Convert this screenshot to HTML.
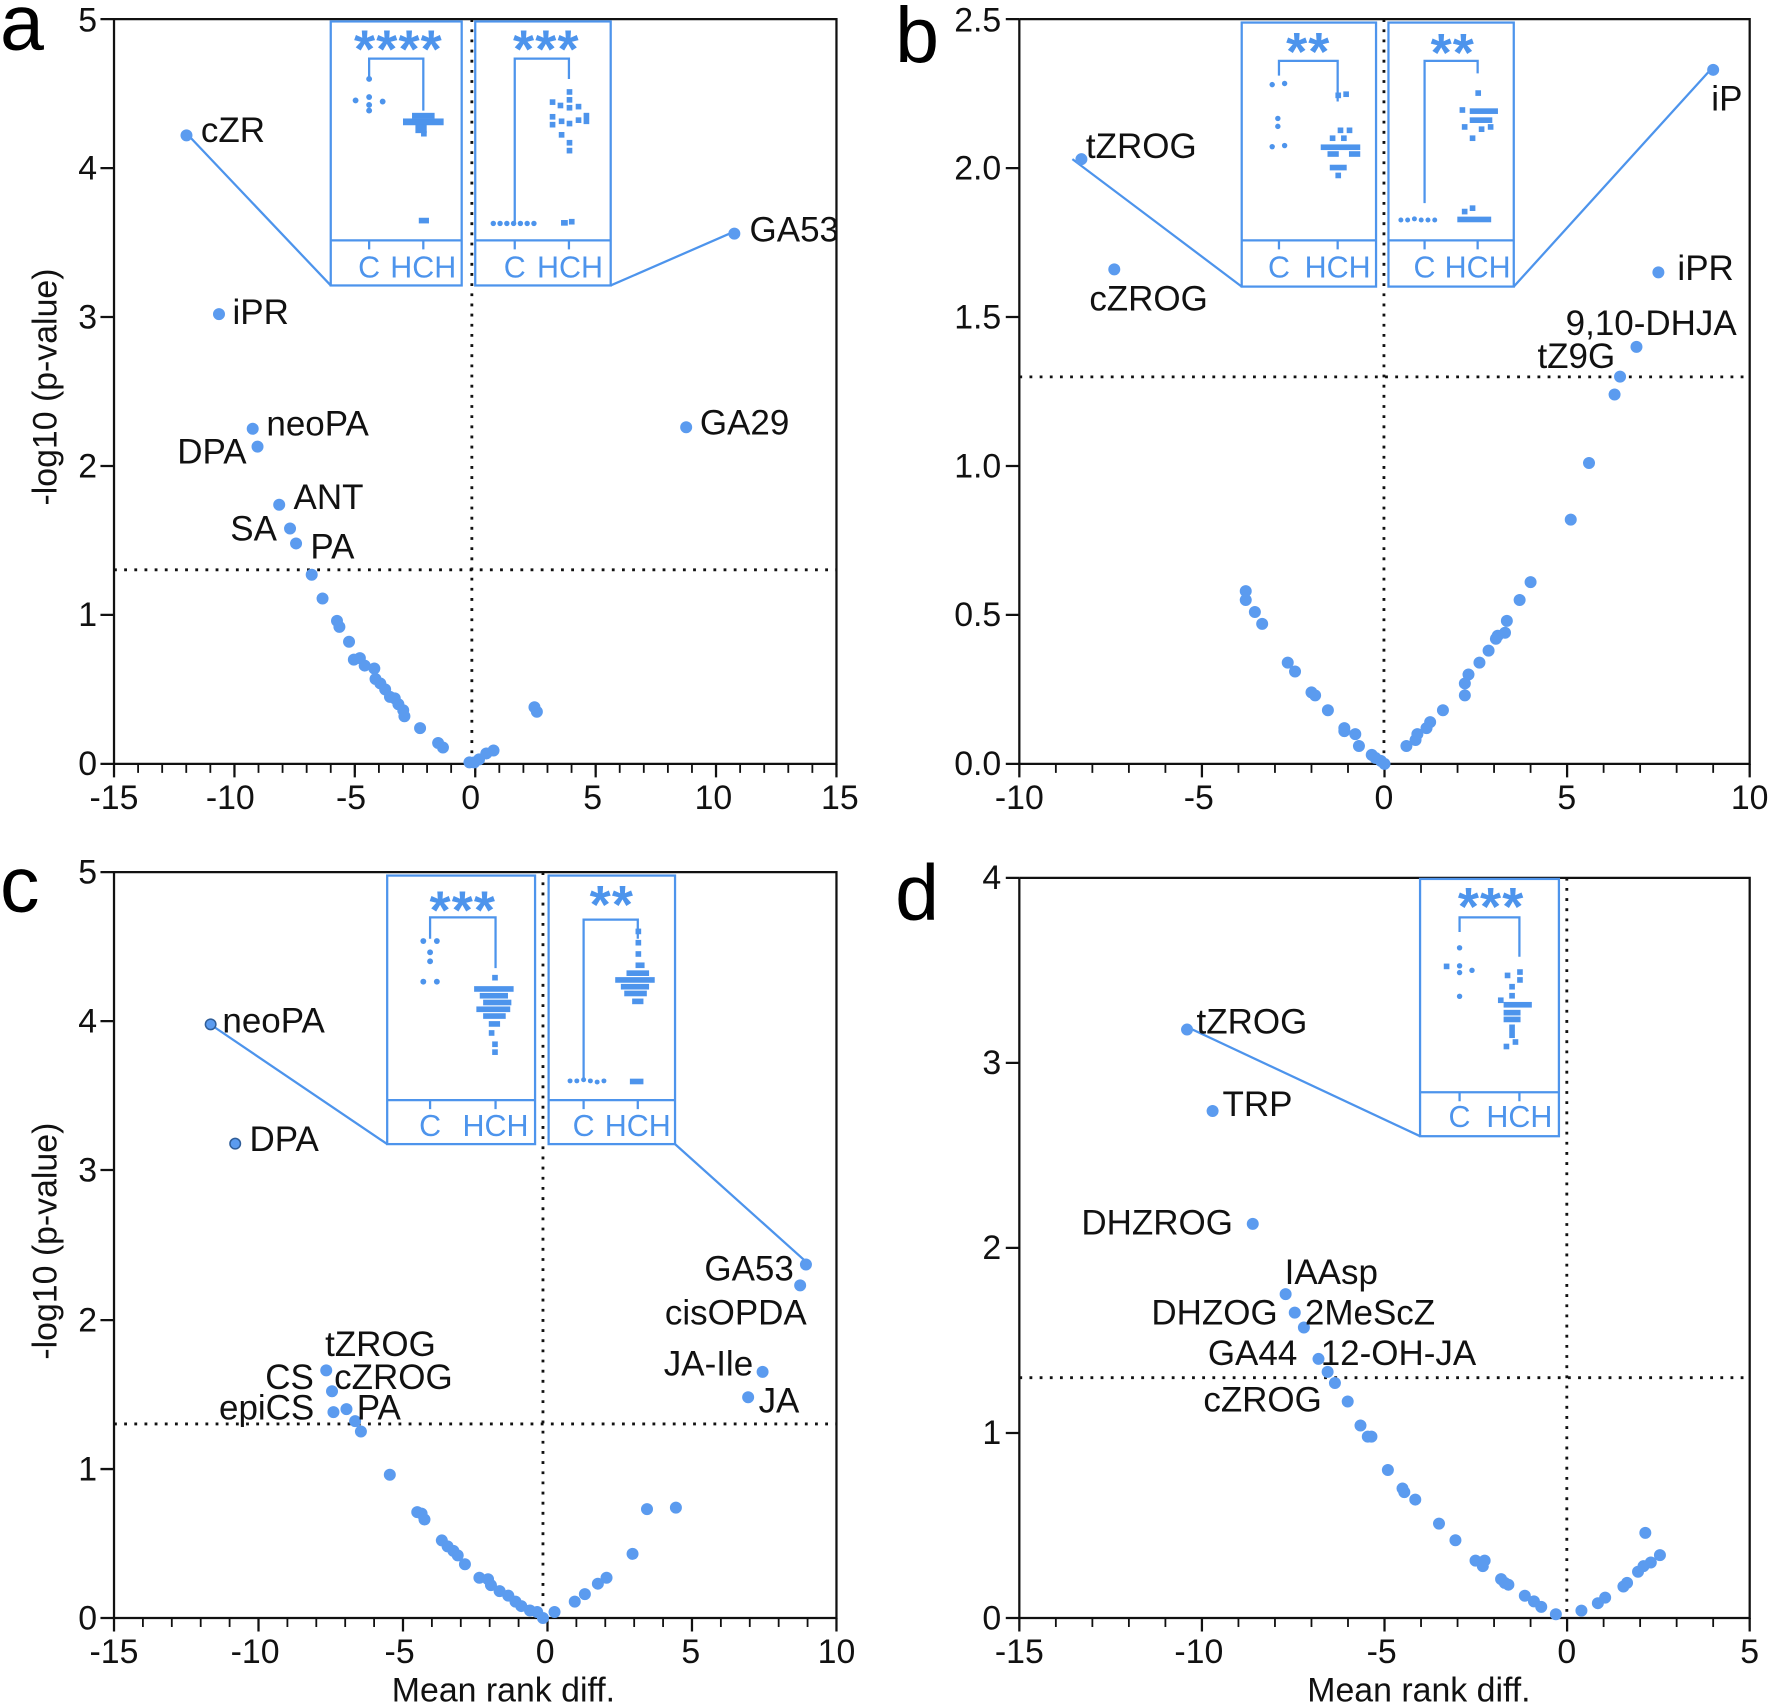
<!DOCTYPE html>
<html><head><meta charset="utf-8"><style>
html,body{margin:0;padding:0;background:#fff;}
svg{display:block;}
text{font-family:"Liberation Sans",Arial,sans-serif;}
</style></head><body>
<svg width="1770" height="1706" xmlns="http://www.w3.org/2000/svg">
<rect width="1770" height="1706" fill="#fff"/>
<g transform="scale(1.12883,1.12831)">

<!-- ================= PANEL A ================= -->
<g>
<text x="0" y="44" font-size="70">a</text>
<path d="M101 17V677H741V17H101" fill="none" stroke="#111" stroke-width="2"/>
<line x1="101" y1="681" x2="741" y2="681" stroke="#111" stroke-width="8" stroke-dasharray="1.6 19.733" stroke-dashoffset="0.8"/>
<path d="M101 677v12M207.7 677v12M314.3 677v12M421 677v12M527.7 677v12M634.3 677v12M741 677v12M89 677h12M89 545h12M89 413h12M89 281h12M89 149h12M89 17h12" stroke="#111" stroke-width="2"/>
<g font-size="30" text-anchor="middle" fill="#111">
<text x="101" y="717">-15</text><text x="204" y="717">-10</text><text x="311" y="717">-5</text><text x="417" y="717">0</text><text x="525" y="717">5</text><text x="632" y="717">10</text><text x="744" y="717">15</text>
</g>
<g font-size="30" text-anchor="end" fill="#111">
<text x="86" y="687">0</text><text x="86" y="555">1</text><text x="86" y="423">2</text><text x="86" y="291">3</text><text x="86" y="159">4</text><text x="86" y="28">5</text>
</g>
<text transform="translate(50,343) rotate(-90)" font-size="30" text-anchor="middle" fill="#111">-log10 (p-value)</text>
<line x1="101" y1="505" x2="741" y2="505" stroke="#111" stroke-width="2.5" stroke-dasharray="2.5 6.5"/>
<line x1="418" y1="17" x2="418" y2="677" stroke="#111" stroke-width="2.5" stroke-dasharray="2.5 6.5"/>
<g stroke="#4d94ec" fill="none" stroke-width="2">
<rect x="293" y="19" width="116" height="234" fill="#fff"/><line x1="293" y1="213" x2="409" y2="213"/>
<rect x="421" y="19" width="120" height="234" fill="#fff"/><line x1="421" y1="213" x2="541" y2="213"/>
<path d="M165 118L293 253M541 253L651 205"/>
<path d="M327 70V52H375V98M456 197V52H504V70"/>
<path d="M327 213v8M375 213v8M456 213v8M504 213v8"/>
</g>
<g font-size="27" fill="#4d94ec" text-anchor="middle">
<text x="327" y="246">C</text><text x="375" y="246">HCH</text><text x="456" y="246">C</text><text x="505" y="246">HCH</text>
<text x="353" y="60" font-size="48" font-weight="bold" letter-spacing="1">****</text><text x="484" y="60" font-size="48" font-weight="bold" letter-spacing="1">***</text>
</g>
<g fill="#4d94ec">
<circle cx="327" cy="70" r="2.6"/><circle cx="327" cy="86" r="2.6"/><circle cx="315" cy="89" r="2.6"/><circle cx="339" cy="90" r="2.6"/><circle cx="327" cy="93" r="2.6"/><circle cx="327" cy="98" r="2.6"/>
<rect x="357" y="105" width="36" height="6"/><rect x="365" y="100" width="20" height="5"/><rect x="368" y="110" width="10" height="8"/><rect x="373" y="116" width="5" height="5"/><rect x="371" y="193" width="9" height="5"/>
<circle cx="437" cy="198" r="2.4"/><circle cx="443" cy="198" r="2.4"/><circle cx="449" cy="198" r="2.4"/><circle cx="455" cy="198" r="2.4"/><circle cx="461" cy="198" r="2.4"/><circle cx="467" cy="198" r="2.4"/><circle cx="473" cy="198" r="2.4"/>
<rect x="502" y="79" width="5" height="5"/><rect x="502" y="86" width="5" height="5"/><rect x="487" y="88" width="5" height="5"/><rect x="494" y="91" width="5" height="5"/><rect x="502" y="93" width="5" height="5"/><rect x="510" y="92" width="5" height="5"/><rect x="487" y="101" width="5" height="5"/><rect x="495" y="105" width="5" height="5"/><rect x="487" y="108" width="5" height="5"/><rect x="502" y="107" width="5" height="5"/><rect x="510" y="104" width="5" height="5"/><rect x="517" y="100" width="5" height="10"/><rect x="495" y="117" width="5" height="5"/><rect x="502" y="124" width="5" height="5"/><rect x="502" y="131" width="5" height="5"/><rect x="497" y="195" width="6" height="5"/><rect x="504" y="194" width="5" height="5"/>
</g>
<g transform="translate(418,677) scale(21.333,-132)">
<path vector-effect="non-scaling-stroke" stroke="#5b9bef" stroke-width="12" stroke-linecap="round" fill="none" d="M-11.85 4.22h0M-10.5 3.02h0M-9.1 2.25h0M-8.9 2.13h0M-8.0 1.74h0M-7.55 1.58h0M-7.3 1.48h0M-6.65 1.27h0M-6.2 1.11h0M-5.6 0.96h0M-5.5 0.92h0M-5.1 0.82h0M-4.9 0.70h0M-4.65 0.71h0M-4.45 0.66h0M-4.05 0.64h0M-4.0 0.57h0M-3.8 0.54h0M-3.6 0.50h0M-3.4 0.45h0M-3.2 0.44h0M-3.05 0.40h0M-2.85 0.36h0M-2.8 0.32h0M-2.15 0.24h0M-1.4 0.14h0M-1.2 0.11h0M-0.1 0.01h0M0.1 0.01h0M0.3 0.03h0M0.6 0.07h0M0.9 0.09h0M2.6 0.38h0M2.7 0.35h0M8.9 2.26h0M10.9 3.56h0"/>
</g>
<g font-size="31" fill="#111">
<text x="178" y="126">cZR</text><text x="206" y="287">iPR</text><text x="236" y="386">neoPA</text><text x="157" y="411">DPA</text><text x="260" y="451">ANT</text><text x="204" y="479">SA</text><text x="275" y="495">PA</text><text x="664" y="214">GA53</text><text x="620" y="385">GA29</text>
</g>
</g>

<!-- ================= PANEL B ================= -->
<g>
<text x="793" y="55" font-size="70">b</text>
<path d="M903 17V677H1550V17H903" fill="none" stroke="#111" stroke-width="2"/>
<line x1="903" y1="681" x2="1550" y2="681" stroke="#111" stroke-width="8" stroke-dasharray="1.6 30.75" stroke-dashoffset="0.8"/>
<path d="M903 677v12M1064.75 677v12M1226.5 677v12M1388.25 677v12M1550 677v12M891 677h12M891 545h12M891 413h12M891 281h12M891 149h12M891 17h12" stroke="#111" stroke-width="2"/>
<g font-size="30" text-anchor="middle" fill="#111">
<text x="903" y="717">-10</text><text x="1062" y="717">-5</text><text x="1226" y="717">0</text><text x="1388" y="717">5</text><text x="1550" y="717">10</text>
</g>
<g font-size="30" text-anchor="end" fill="#111">
<text x="887" y="687">0.0</text><text x="887" y="555">0.5</text><text x="887" y="423">1.0</text><text x="887" y="291">1.5</text><text x="887" y="159">2.0</text><text x="887" y="28">2.5</text>
</g>
<line x1="903" y1="334" x2="1550" y2="334" stroke="#111" stroke-width="2.5" stroke-dasharray="2.5 6.5"/>
<line x1="1226" y1="17" x2="1226" y2="677" stroke="#111" stroke-width="2.5" stroke-dasharray="2.5 6.5"/>
<g stroke="#4d94ec" fill="none" stroke-width="2">
<rect x="1100" y="20" width="119" height="234" fill="#fff"/><line x1="1100" y1="213" x2="1219" y2="213"/>
<rect x="1230" y="20" width="111" height="234" fill="#fff"/><line x1="1230" y1="213" x2="1341" y2="213"/>
<path d="M950 141L1100 254M1341 254L1516 61"/>
<path d="M1133 67V54H1185V90M1262 180V54H1309V65"/>
<path d="M1133 213v8M1185 213v8M1262 213v8M1309 213v8"/>
</g>
<g font-size="27" fill="#4d94ec" text-anchor="middle">
<text x="1133" y="246">C</text><text x="1185" y="246">HCH</text><text x="1262" y="246">C</text><text x="1309" y="246">HCH</text>
<text x="1159" y="62" font-size="48" font-weight="bold" letter-spacing="1">**</text><text x="1287" y="63" font-size="48" font-weight="bold" letter-spacing="1">**</text>
</g>
<g fill="#4d94ec">
<circle cx="1127" cy="75" r="2.4"/><circle cx="1138" cy="74" r="2.4"/><circle cx="1132" cy="105" r="2.4"/><circle cx="1132" cy="112" r="2.4"/><circle cx="1127" cy="130" r="2.4"/><circle cx="1138" cy="129" r="2.4"/>
<rect x="1183" y="82" width="5" height="5"/><rect x="1190" y="81" width="5" height="5"/><rect x="1185" y="113" width="5" height="5"/><rect x="1193" y="113" width="5" height="5"/><rect x="1178" y="120" width="5" height="5"/><rect x="1188" y="120" width="5" height="5"/><rect x="1170" y="128" width="35" height="5"/><rect x="1176" y="134" width="10" height="5"/><rect x="1195" y="134" width="10" height="5"/><rect x="1178" y="146" width="15" height="5"/><rect x="1183" y="153" width="5" height="5"/>
<circle cx="1241" cy="195" r="2.2"/><circle cx="1247" cy="195" r="2.2"/><circle cx="1253" cy="194" r="2.2"/><circle cx="1259" cy="195" r="2.2"/><circle cx="1265" cy="195" r="2.2"/><circle cx="1271" cy="195" r="2.2"/>
<rect x="1291" y="192" width="30" height="5"/><rect x="1302" y="182" width="5" height="5"/><rect x="1295" y="185" width="5" height="5"/>
<rect x="1307" y="80" width="5" height="5"/><rect x="1293" y="95" width="5" height="5"/><rect x="1302" y="96" width="25" height="5"/><rect x="1302" y="104" width="20" height="5"/><rect x="1295" y="110" width="5" height="5"/><rect x="1310" y="112" width="5" height="5"/><rect x="1318" y="110" width="5" height="5"/><rect x="1302" y="120" width="5" height="5"/>
</g>
<g transform="translate(1226.5,677) scale(32.35,-264)">
<path vector-effect="non-scaling-stroke" stroke="#5b9bef" stroke-width="12" stroke-linecap="round" fill="none" d="M-8.3 2.03h0M-7.4 1.66h0M9 2.33h0M7.5 1.65h0M6.9 1.40h0M6.45 1.30h0M6.3 1.24h0M5.6 1.01h0M5.1 0.82h0M4.0 0.61h0M3.7 0.55h0M3.35 0.48h0M3.3 0.44h0M3.1 0.43h0M3.05 0.42h0M2.85 0.38h0M2.6 0.34h0M2.3 0.30h0M2.2 0.27h0M2.2 0.23h0M1.6 0.18h0M1.25 0.14h0M1.15 0.12h0M0.9 0.10h0M0.85 0.08h0M0.6 0.06h0M-3.8 0.58h0M-3.8 0.55h0M-3.55 0.51h0M-3.35 0.47h0M-2.65 0.34h0M-2.45 0.31h0M-2.0 0.24h0M-1.9 0.23h0M-1.55 0.18h0M-1.1 0.12h0M-1.1 0.11h0M-0.8 0.10h0M-0.7 0.06h0M-0.35 0.03h0M-0.25 0.02h0M-0.1 0.01h0M0 0h0"/>
</g>
<g font-size="31" fill="#111">
<text x="962" y="140">tZROG</text><text x="965" y="275">cZROG</text><text x="1516" y="98">iP</text><text x="1486" y="248">iPR</text><text x="1387" y="297">9,10-DHJA</text><text x="1362" y="326">tZ9G</text>
</g>
</g>

<!-- ================= PANEL C ================= -->
<g>
<text x="0" y="808" font-size="70">c</text>
<path d="M101 773V1434H741V773H101" fill="none" stroke="#111" stroke-width="2"/>
<line x1="101" y1="1438" x2="741" y2="1438" stroke="#111" stroke-width="8" stroke-dasharray="1.6 24" stroke-dashoffset="0.8"/>
<path d="M101 1434v12M229 1434v12M357 1434v12M485 1434v12M613 1434v12M741 1434v12M89 1434h12M89 1302h12M89 1170h12M89 1037h12M89 905h12M89 773h12" stroke="#111" stroke-width="2"/>
<g font-size="30" text-anchor="middle" fill="#111">
<text x="101" y="1474">-15</text><text x="226" y="1474">-10</text><text x="354" y="1474">-5</text><text x="483" y="1474">0</text><text x="612" y="1474">5</text><text x="741" y="1474">10</text>
</g>
<g font-size="30" text-anchor="end" fill="#111">
<text x="86" y="1444">0</text><text x="86" y="1312">1</text><text x="86" y="1180">2</text><text x="86" y="1047">3</text><text x="86" y="915">4</text><text x="86" y="783">5</text>
</g>
<text transform="translate(50,1100) rotate(-90)" font-size="30" text-anchor="middle" fill="#111">-log10 (p-value)</text>
<text x="446" y="1508" font-size="30" text-anchor="middle" fill="#111">Mean rank diff.</text>
<line x1="101" y1="1262" x2="741" y2="1262" stroke="#111" stroke-width="2.5" stroke-dasharray="2.5 6.5"/>
<line x1="481" y1="773" x2="481" y2="1434" stroke="#111" stroke-width="2.5" stroke-dasharray="2.5 6.5"/>
<g stroke="#4d94ec" fill="none" stroke-width="2">
<rect x="343" y="776" width="131" height="238" fill="#fff"/><line x1="343" y1="975" x2="474" y2="975"/>
<rect x="486" y="776" width="112" height="238" fill="#fff"/><line x1="486" y1="975" x2="598" y2="975"/>
<path d="M185 907L343 1014M598 1014L716 1120"/>
<path d="M381 832V813H439V858M517 958V815H565V832"/>
<path d="M381 975v8M439 975v8M517 975v8M565 975v8"/>
</g>
<g font-size="27" fill="#4d94ec" text-anchor="middle">
<text x="381" y="1007">C</text><text x="439" y="1007">HCH</text><text x="517" y="1007">C</text><text x="565" y="1007">HCH</text>
<text x="410" y="823" font-size="48" font-weight="bold" letter-spacing="1">***</text><text x="542" y="818" font-size="48" font-weight="bold" letter-spacing="1">**</text>
</g>
<g fill="#4d94ec">
<circle cx="375" cy="834" r="2.6"/><circle cx="387" cy="834" r="2.6"/><circle cx="381" cy="844" r="2.6"/><circle cx="381" cy="852" r="2.6"/><circle cx="375" cy="870" r="2.6"/><circle cx="387" cy="870" r="2.6"/>
<rect x="436" y="864" width="5" height="5"/><rect x="420" y="874" width="35" height="5"/><rect x="425" y="880" width="25" height="5"/><rect x="428" y="886" width="25" height="5"/><rect x="422" y="892" width="30" height="5"/><rect x="428" y="898" width="20" height="5"/><rect x="433" y="905" width="10" height="5"/><rect x="433" y="913" width="5" height="5"/><rect x="436" y="923" width="5" height="5"/><rect x="436" y="930" width="5" height="5"/>
<circle cx="505" cy="958" r="2.2"/><circle cx="511" cy="958" r="2.2"/><circle cx="517" cy="957" r="2.2"/><circle cx="523" cy="958" r="2.2"/><circle cx="529" cy="959" r="2.2"/><circle cx="535" cy="958" r="2.2"/>
<rect x="558" y="956" width="12" height="5"/>
<rect x="563" y="823" width="5" height="5"/><rect x="563" y="833" width="5" height="5"/><rect x="563" y="843" width="5" height="5"/><rect x="563" y="853" width="8" height="5"/><rect x="555" y="860" width="20" height="5"/><rect x="545" y="866" width="35" height="5"/><rect x="550" y="872" width="25" height="5"/><rect x="553" y="878" width="20" height="5"/><rect x="560" y="885" width="10" height="5"/>
</g>
<g transform="translate(481,1434) scale(25.6,-132.2)">
<path vector-effect="non-scaling-stroke" stroke="#5b9bef" stroke-width="12" stroke-linecap="round" fill="none" d="M-7.5 1.66h0M-7.3 1.52h0M-7.25 1.38h0M-6.8 1.40h0M-6.5 1.32h0M-6.3 1.25h0M-5.3 0.96h0M-4.35 0.71h0M-4.2 0.70h0M-4.1 0.66h0M-3.5 0.52h0M-3.3 0.48h0M-3.1 0.45h0M-2.95 0.42h0M-2.7 0.36h0M-2.2 0.27h0M-1.9 0.26h0M-1.8 0.22h0M-1.5 0.18h0M-1.2 0.15h0M-0.95 0.11h0M-0.75 0.08h0M-0.45 0.05h0M-0.2 0.04h0M0 0h0M0.4 0.04h0M1.1 0.11h0M1.45 0.16h0M1.9 0.23h0M2.2 0.27h0M3.1 0.43h0M3.6 0.73h0M4.6 0.74h0M7.1 1.48h0M7.6 1.65h0M8.9 2.23h0M9.1 2.37h0"/>
<path vector-effect="non-scaling-stroke" stroke="#2f5d98" stroke-width="12" stroke-linecap="round" fill="none" d="M-11.5 3.98h0M-10.65 3.18h0"/>
<path vector-effect="non-scaling-stroke" stroke="#5b9bef" stroke-width="9" stroke-linecap="round" fill="none" d="M-11.5 3.98h0M-10.65 3.18h0"/>
</g>
<g font-size="31" fill="#111">
<text x="197" y="915">neoPA</text><text x="221" y="1020">DPA</text><text x="288" y="1202">tZROG</text><text x="235" y="1231">CS</text><text x="296" y="1231">cZROG</text><text x="194" y="1258">epiCS</text><text x="316" y="1258">PA</text><text x="624" y="1135">GA53</text><text x="589" y="1174">cisOPDA</text><text x="588" y="1219">JA-Ile</text><text x="672" y="1252">JA</text>
</g>
</g>

<!-- ================= PANEL D ================= -->
<g>
<text x="793" y="815" font-size="70">d</text>
<path d="M903 778V1434H1550V778H903" fill="none" stroke="#111" stroke-width="2"/>
<line x1="903" y1="1438" x2="1550" y2="1438" stroke="#111" stroke-width="8" stroke-dasharray="1.6 30.75" stroke-dashoffset="0.8"/>
<path d="M903 1434v12M1064.75 1434v12M1226.5 1434v12M1388.25 1434v12M1550 1434v12M891 1434h12M891 1270h12M891 1106h12M891 942h12M891 778h12" stroke="#111" stroke-width="2"/>
<g font-size="30" text-anchor="middle" fill="#111">
<text x="903" y="1474">-15</text><text x="1062" y="1474">-10</text><text x="1224" y="1474">-5</text><text x="1388" y="1474">0</text><text x="1550" y="1474">5</text>
</g>
<g font-size="30" text-anchor="end" fill="#111">
<text x="887" y="1444">0</text><text x="887" y="1280">1</text><text x="887" y="1116">2</text><text x="887" y="952">3</text><text x="887" y="788">4</text>
</g>
<text x="1257" y="1508" font-size="30" text-anchor="middle" fill="#111">Mean rank diff.</text>
<line x1="903" y1="1221" x2="1550" y2="1221" stroke="#111" stroke-width="2.5" stroke-dasharray="2.5 6.5"/>
<line x1="1388" y1="778" x2="1388" y2="1434" stroke="#111" stroke-width="2.5" stroke-dasharray="2.5 6.5"/>
<g stroke="#4d94ec" fill="none" stroke-width="2">
<rect x="1258" y="779" width="123" height="228" fill="#fff"/><line x1="1258" y1="968" x2="1381" y2="968"/>
<path d="M1049 909L1258 1007"/>
<path d="M1293 826V813H1346V848"/>
<path d="M1293 968v8M1346 968v8"/>
</g>
<g font-size="27" fill="#4d94ec" text-anchor="middle">
<text x="1293" y="999">C</text><text x="1346" y="999">HCH</text>
<text x="1321" y="820" font-size="48" font-weight="bold" letter-spacing="1">***</text>
</g>
<g fill="#4d94ec">
<circle cx="1293" cy="840" r="2.4"/><circle cx="1293" cy="856" r="2.4"/><circle cx="1304" cy="860" r="2.4"/><circle cx="1293" cy="862" r="2.4"/><circle cx="1293" cy="883" r="2.4"/><rect x="1279" y="854" width="5" height="5"/>
<rect x="1344" y="859" width="5" height="5"/><rect x="1344" y="866" width="5" height="5"/><rect x="1333" y="862" width="5" height="5"/><rect x="1337" y="872" width="5" height="5"/><rect x="1337" y="880" width="5" height="5"/><rect x="1327" y="884" width="5" height="5"/><rect x="1332" y="888" width="25" height="5"/><rect x="1332" y="895" width="15" height="5"/><rect x="1332" y="901" width="15" height="5"/><rect x="1337" y="908" width="5" height="12"/><rect x="1332" y="925" width="5" height="5"/><rect x="1340" y="921" width="5" height="5"/>
</g>
<g transform="translate(1388,1434) scale(32.35,-164)">
<path vector-effect="non-scaling-stroke" stroke="#5b9bef" stroke-width="12" stroke-linecap="round" fill="none" d="M-10.4 3.18h0M-9.7 2.74h0M-8.6 2.13h0M-7.7 1.75h0M-7.45 1.65h0M-7.2 1.57h0M-6.8 1.40h0M-6.55 1.33h0M-6.35 1.27h0M-6.0 1.17h0M-5.65 1.04h0M-5.45 0.98h0M-5.35 0.98h0M-4.9 0.80h0M-4.5 0.70h0M-4.45 0.68h0M-4.15 0.64h0M-3.5 0.51h0M-3.05 0.42h0M-2.5 0.31h0M-2.25 0.31h0M-2.3 0.28h0M-1.8 0.21h0M-1.7 0.19h0M-1.6 0.18h0M-1.15 0.12h0M-0.9 0.09h0M-0.7 0.06h0M-0.3 0.02h0M0.4 0.04h0M0.85 0.08h0M1.05 0.11h0M1.55 0.17h0M1.65 0.19h0M1.95 0.25h0M2.1 0.28h0M2.15 0.46h0M2.3 0.30h0M2.55 0.34h0"/>
</g>
<g font-size="31" fill="#111">
<text x="1060" y="916">tZROG</text><text x="1083" y="989">TRP</text><text x="958" y="1094">DHZROG</text><text x="1138" y="1138">IAAsp</text><text x="1020" y="1174">DHZOG</text><text x="1156" y="1174">2MeScZ</text><text x="1070" y="1210">GA44</text><text x="1170" y="1210">12-OH-JA</text><text x="1066" y="1251">cZROG</text>
</g>
</g>

</g>
</svg>
</body></html>
